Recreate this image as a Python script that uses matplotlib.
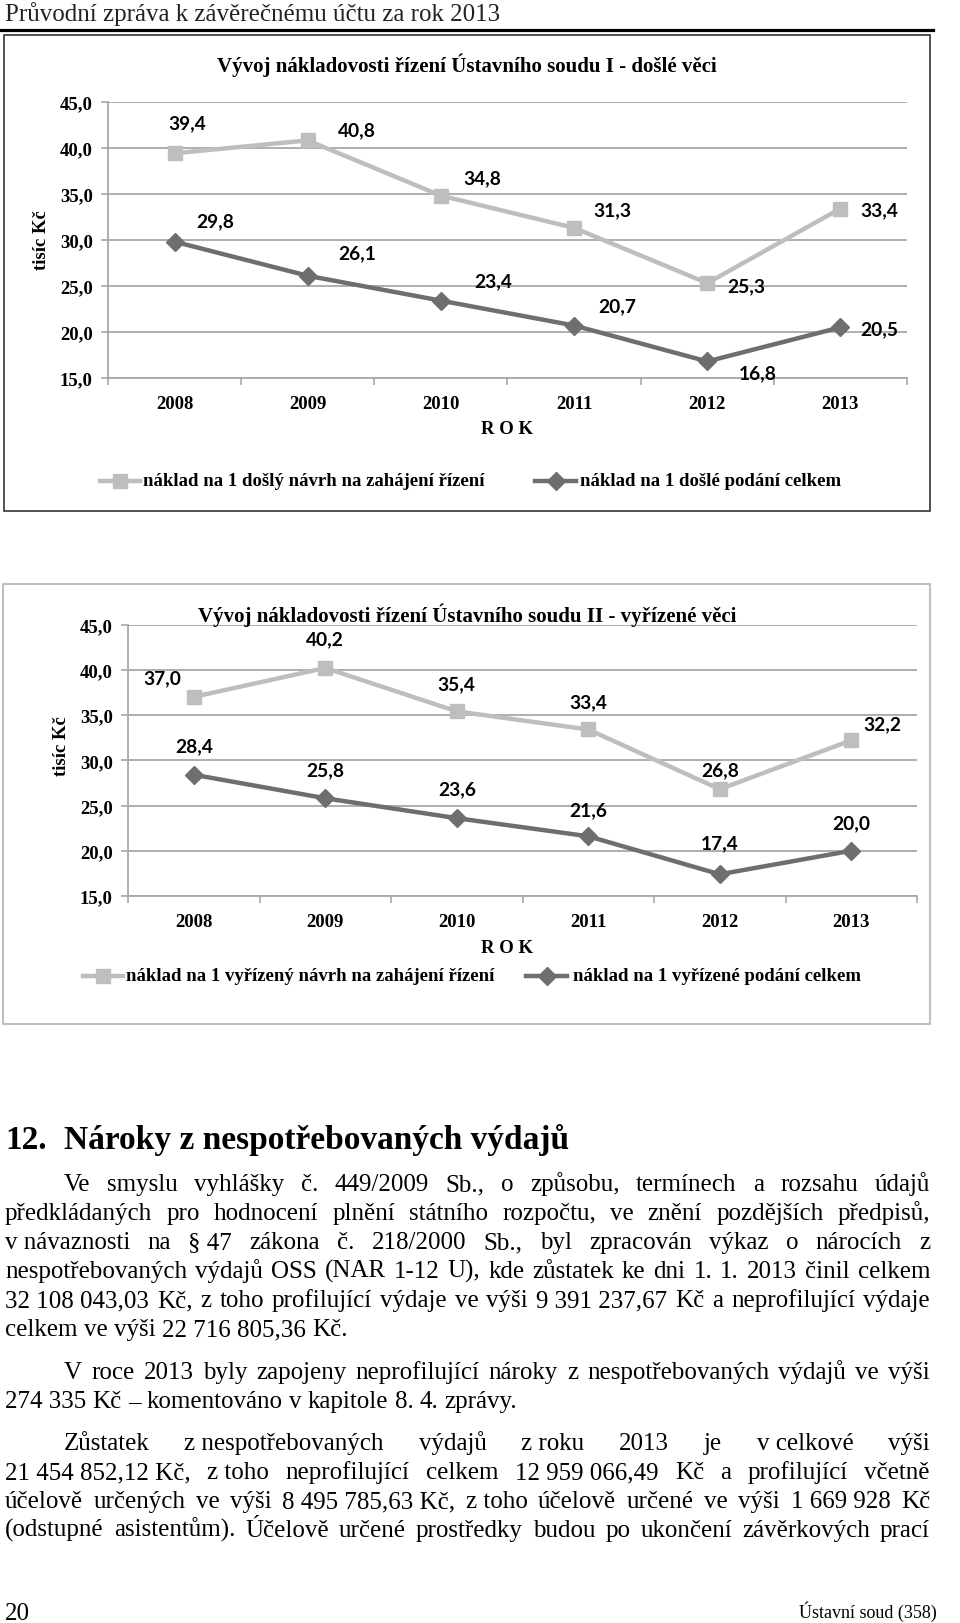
import matplotlib
matplotlib.use('Agg')
import matplotlib.pyplot as plt
from matplotlib.lines import Line2D
from matplotlib.patches import Rectangle

# ---------------- data ----------------
years = ['2008', '2009', '2010', '2011', '2012', '2013']
y_ticks = [15, 20, 25, 30, 35, 40, 45]
ch1_navrh = [39.4, 40.8, 34.8, 31.3, 25.3, 33.4]
ch1_podani = [29.8, 26.1, 23.4, 20.7, 16.8, 20.5]
ch2_navrh = [37.0, 40.2, 35.4, 33.4, 26.8, 32.2]
ch2_podani = [28.4, 25.8, 23.6, 21.6, 17.4, 20.0]

ch1_title = 'Vývoj nákladovosti řízení Ústavního soudu I - došlé věci'
ch2_title = 'Vývoj nákladovosti řízení Ústavního soudu II - vyřízené věci'
ch1_legend = ['náklad na 1 došlý návrh na zahájení řízení', 'náklad na 1 došlé podání celkem']
ch2_legend = ['náklad na 1 vyřízený návrh na zahájení řízení', 'náklad na 1 vyřízené podání celkem']
y_label = 'tisíc Kč'
x_label = 'R O K'

header = 'Průvodní zpráva k závěrečnému účtu za rok 2013'
heading_num = '12.'
heading = 'Nároky z nespotřebovaných výdajů'
paragraphs = [
    ['Ve smyslu vyhlášky č. 449/2009 Sb., o způsobu, termínech a rozsahu údajů',
     'předkládaných pro hodnocení plnění státního rozpočtu, ve znění pozdějších předpisů,',
     'v~návaznosti na §~47 zákona č. 218/2000 Sb., byl zpracován výkaz o nárocích z',
     'nespotřebovaných výdajů OSS (NAR 1-12 U), kde zůstatek ke dni 1. 1. 2013 činil celkem',
     '32~108~043,03 Kč, z toho profilující výdaje ve výši 9~391~237,67 Kč a neprofilující výdaje',
     'celkem ve výši 22~716~805,36 Kč.'],
    ['V roce 2013 byly zapojeny neprofilující nároky z nespotřebovaných výdajů ve výši',
     '274~335 Kč – komentováno v kapitole 8. 4. zprávy.'],
    ['Zůstatek z~nespotřebovaných výdajů z~roku 2013 je v~celkové výši',
     '21~454~852,12~Kč, z~toho neprofilující celkem 12~959~066,49 Kč a profilující včetně',
     'účelově určených ve výši 8~495~785,63~Kč, z~toho účelově určené ve výši 1~669~928 Kč',
     '(odstupné asistentům). Účelově určené prostředky budou po ukončení závěrkových prací'],
]
para_last_justified = [False, False, True]
footer_left = '20'
footer_right = 'Ústavní soud (358)'

# ---------------- style ----------------
W, H = 960, 1624
LIGHT = '#BEBEBE'
DARK = '#6E6E6E'
GRID = '#A8A8A8'
SERIF = 'Liberation Serif'
SANS = 'Lato'
FS_CH = 13.5
FS_LAB = 13.8
FS_TITLE = 15

fig = plt.figure(figsize=(W / 100, H / 100), dpi=100)
renderer = fig.canvas.get_renderer()


def fx(x):
    return x / W


def fy(y):
    return 1 - y / H


def add_axes_px(x0, x1, y0, y1):
    return fig.add_axes([fx(x0), fy(y1), (x1 - x0) / W, (y1 - y0) / H])


# header
fig.text(fx(5), fy(21), header, fontfamily=SERIF, fontsize=18, color='#222222',
         ha='left', va='baseline')
fig.add_artist(Line2D([fx(0), fx(933)], [fy(30.5), fy(30.5)], color='black', lw=2.3,
                      transform=fig.transFigure))


def draw_chart(box, axpx, navrh, podani, title, title_xy, legend, leg_pos,
               rok_xy, ylab_xy, off_light, off_dark, box_color, box_lw):
    bx0, by0, bx1, by1 = box
    fig.add_artist(Rectangle((fx(bx0), fy(by1)), (bx1 - bx0) / W, (by1 - by0) / H,
                             transform=fig.transFigure, fill=False,
                             edgecolor=box_color, lw=box_lw))
    ax = add_axes_px(*axpx)
    x = list(range(len(years)))
    ax.plot(x, navrh, color=LIGHT, lw=3.2, marker='s', markersize=10.5,
            markeredgecolor=LIGHT, markerfacecolor=LIGHT, zorder=3)
    ax.plot(x, podani, color=DARK, lw=3.2, marker='D', markersize=9.5,
            markeredgecolor=DARK, markerfacecolor=DARK, zorder=3)
    for xi, v, o in zip(x, navrh, off_light):
        ax.annotate(f'{v:.1f}'.replace('.', ','), (xi, v), xytext=o,
                    textcoords='offset pixels', ha='center', va='center',
                    fontfamily=SANS, fontweight='bold', fontsize=FS_LAB, zorder=5)
    for xi, v, o in zip(x, podani, off_dark):
        ax.annotate(f'{v:.1f}'.replace('.', ','), (xi, v), xytext=o,
                    textcoords='offset pixels', ha='center', va='center',
                    fontfamily=SANS, fontweight='bold', fontsize=FS_LAB, zorder=5)
    ax.set_xlim(-0.5, len(years) - 0.5)
    ax.set_ylim(y_ticks[0], y_ticks[-1])
    ax.set_yticks(y_ticks)
    ax.set_yticklabels([f'{t:.1f}'.replace('.', ',') for t in y_ticks],
                       fontfamily=SERIF, fontweight='bold', fontsize=FS_CH)
    ax.set_xticks(x)
    ax.set_xticklabels(years, fontfamily=SERIF, fontweight='bold', fontsize=FS_CH)
    ax.set_xticks([i - 0.5 for i in range(len(years) + 1)], minor=True)
    ax.tick_params(axis='x', which='major', length=0, pad=12)
    ax.tick_params(axis='x', which='minor', length=5, color=GRID, width=1.2)
    ax.tick_params(axis='y', length=5, color=GRID, width=1.2, pad=6)
    ax.grid(axis='y', color=GRID, lw=1.3)
    ax.set_axisbelow(True)
    for s in ['top', 'right']:
        ax.spines[s].set_visible(False)
    for s in ['left', 'bottom']:
        ax.spines[s].set_color(GRID)
        ax.spines[s].set_linewidth(1.3)
    ax.patch.set_alpha(0)
    fig.text(fx(title_xy[0]), fy(title_xy[1]), title, fontfamily=SERIF, fontweight='bold',
             fontsize=FS_TITLE, ha='center', va='center')
    fig.text(fx(rok_xy[0]), fy(rok_xy[1]), x_label, fontfamily=SERIF, fontweight='bold',
             fontsize=FS_CH, ha='center', va='center')
    fig.text(fx(ylab_xy[0]), fy(ylab_xy[1]), y_label, fontfamily=SERIF, fontweight='bold',
             fontsize=FS_CH, ha='center', va='center', rotation=90)
    # legend
    for (sx0, sx1, sy, tx), lab, col, mk, ms in zip(
            leg_pos, legend, [LIGHT, DARK], ['s', 'D'], [10.5, 9.5]):
        fig.add_artist(Line2D([fx(sx0), fx(sx1)], [fy(sy), fy(sy)], color=col, lw=3.2,
                              transform=fig.transFigure))
        fig.add_artist(Line2D([fx((sx0 + sx1) / 2)], [fy(sy)], color=col, marker=mk,
                              markersize=ms, lw=0, transform=fig.transFigure))
        fig.text(fx(tx), fy(sy), lab, fontfamily=SERIF, fontweight='bold', fontsize=FS_CH,
                 ha='left', va='center')
    return ax


draw_chart(box=(4, 36, 930, 512), axpx=(108, 907, 102.7, 379),
           navrh=ch1_navrh, podani=ch1_podani, title=ch1_title, title_xy=(467, 65),
           legend=ch1_legend,
           leg_pos=[(100, 140, 482, 143), (535, 576, 482, 580)],
           rok_xy=(507, 429), ylab_xy=(41, 240),
           off_light=[(13, 31), (49, 11), (41, 18), (38, 18), (39, -3), (39, -1)],
           off_dark=[(41, 21), (49, 23), (52, 20), (43, 20), (50, -11), (39, -1)],
           box_color='#333333', box_lw=1.2)

draw_chart(box=(3, 585, 930, 1025), axpx=(128, 917, 625.5, 897),
           navrh=ch2_navrh, podani=ch2_podani, title=ch2_title, title_xy=(467, 615),
           legend=ch2_legend,
           leg_pos=[(83, 123, 977, 126), (526, 567, 977, 573)],
           rok_xy=(507, 949), ylab_xy=(62, 746),
           off_light=[(-31, 19), (0, 29), (0, 28), (0, 28), (0, 19), (31, 17)],
           off_dark=[(0, 29), (0, 29), (0, 29), (0, 27), (0, 32), (0, 28)],
           box_color='#C0C0C0', box_lw=1.5)

# heading
fig.text(fx(5), fy(1149), heading_num, fontfamily=SERIF, fontweight='bold', fontsize=24,
         ha='left', va='baseline')
fig.text(fx(64), fy(1149), heading, fontfamily=SERIF, fontweight='bold', fontsize=24,
         ha='left', va='baseline')

BODY_FS = 18
LEFT, RIGHT, INDENT = 5, 930, 64


def draw_line(line, y_base, justify, indent):
    tokens = [t.replace('~', '\u00a0') for t in line.split(' ')]
    x_start = INDENT if indent else LEFT
    texts = [fig.text(0, 0, t, fontfamily=SERIF, fontsize=BODY_FS, ha='left', va='baseline')
             for t in tokens]
    widths = [t.get_window_extent(renderer).width for t in texts]
    space = texts[0].get_fontsize() * 100 / 72 * 0.25
    if justify and len(tokens) > 1:
        gap = (RIGHT - x_start - sum(widths)) / (len(tokens) - 1)
    else:
        gap = space
    xpos = x_start
    for t, w in zip(texts, widths):
        t.set_position((fx(xpos), fy(y_base)))
        xpos += w + gap


baselines = [[1191, 1220, 1249, 1278, 1307, 1336], [1379, 1408], [1450, 1479, 1508, 1537]]
for para, bls, lastj in zip(paragraphs, baselines, para_last_justified):
    for i, (line, yb) in enumerate(zip(para, bls)):
        last = i == len(para) - 1
        draw_line(line, yb, justify=(not last) or lastj, indent=(i == 0))

fig.text(fx(5), fy(1620), footer_left, fontfamily=SERIF, fontsize=18, ha='left', va='baseline')
fig.text(fx(937), fy(1618), footer_right, fontfamily=SERIF, fontsize=13, ha='right',
         va='baseline')

fig.savefig('out.png', dpi=100)
